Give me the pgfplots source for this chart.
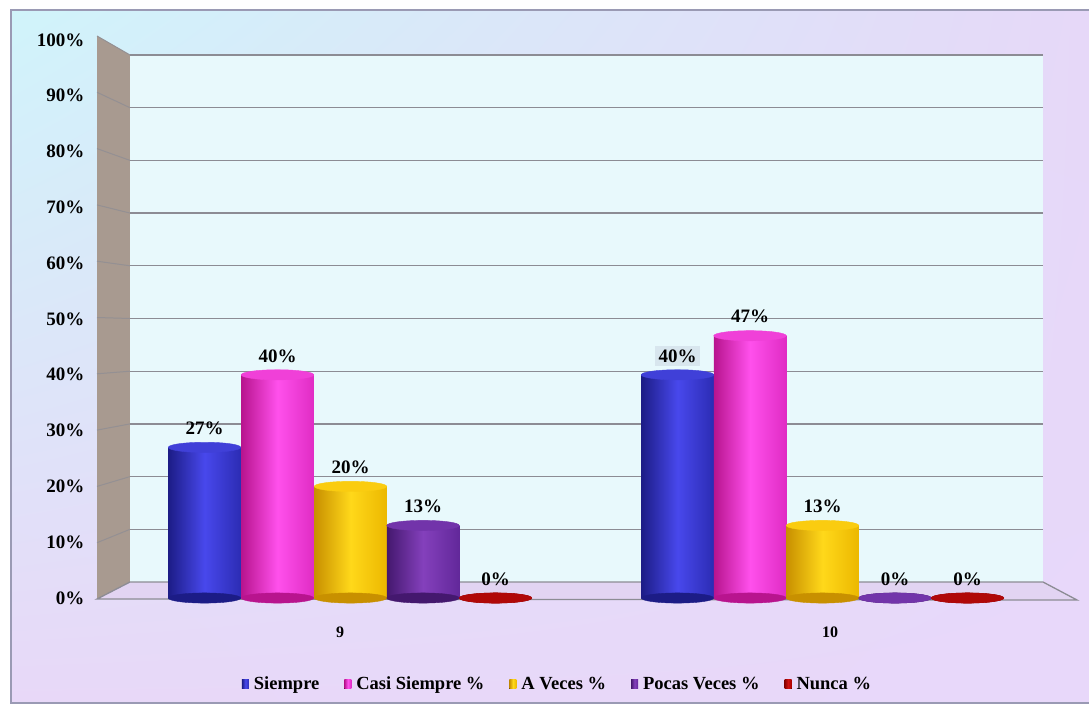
\documentclass[border=0pt]{standalone}
\usepackage{fontspec}
\setmainfont{Liberation Serif}
\usepackage{pgfplots}
\pgfplotsset{compat=1.18}
\usetikzlibrary{shadings}

\definecolor{bgTL}{HTML}{D0F4FA}
\definecolor{bgTR}{HTML}{E6D8F8}
\definecolor{bgBL}{HTML}{E8D8F8}
\definecolor{bgBR}{HTML}{E8D8FA}
\definecolor{frameC}{HTML}{9A9AB4}
\definecolor{wallC}{HTML}{E8F9FC}
\definecolor{sideC}{HTML}{A89A90}
\definecolor{floorC}{HTML}{E2D4F2}
\definecolor{gridC}{HTML}{8C8C94}
\definecolor{lblC}{HTML}{D8E6EE}

\definecolor{bD}{HTML}{1C1C86}\definecolor{bM}{HTML}{2C2CB4}\definecolor{bL}{HTML}{4848EC}\definecolor{bT}{HTML}{4040D8}
\definecolor{pD}{HTML}{B8148E}\definecolor{pM}{HTML}{E02CC4}\definecolor{pL}{HTML}{FF50EC}\definecolor{pT}{HTML}{F040D8}
\definecolor{yD}{HTML}{C89000}\definecolor{yM}{HTML}{ECB800}\definecolor{yL}{HTML}{FFD81A}\definecolor{yT}{HTML}{FACC10}
\definecolor{vD}{HTML}{44186E}\definecolor{vM}{HTML}{62289A}\definecolor{vL}{HTML}{8440BC}\definecolor{vT}{HTML}{7234AA}
\definecolor{rD}{HTML}{880000}\definecolor{rM}{HTML}{A80000}\definecolor{rL}{HTML}{D01010}\definecolor{rT}{HTML}{B00808}

\pgfplotsset{
  cyl/.style={ybar, bar width=72.5pt, bar shift=0pt, draw=none,
    nodes near coords={\pgfmathprintnumber{\pgfplotspointmeta}\%},
    every node near coord/.append style={font=\fontsize{19}{22}\selectfont\bfseries, text=black, anchor=south, yshift=9pt},
    legend image code/.code={\fill[##1] (0pt,-4.5pt) rectangle (7pt,4.5pt); \path (-1pt,0pt) (10pt,0pt);}},
  disc/.style={only marks, mark=*, mark size=36.25pt, draw=#1, fill=#1,
    mark options={yscale=0.14, fill=#1, draw=#1}, forget plot},
}
% #1 dark, #2 mid, #3 light, #4 top, #5 x, #6 value, #7 extra options
\newcommand{\cylbar}[7]{%
  \addplot[disc=#1] coordinates {(#5,0)};
  \addplot[cyl, #7, left color=#1, right color=#2, middle color=#3] coordinates {(#5,#6)};
  \addplot[disc=#4] coordinates {(#5,#6)};
}

\begin{document}
\begin{tikzpicture}[x=1pt,y=1pt]
\useasboundingbox (0,0) rectangle (1089,-706);
\fill[white] (0,0) rectangle (1089,-706);
\shade[upper left=bgTL, upper right=bgTR, lower left=bgBL, lower right=bgBR] (11,-10) rectangle (1089,-703);
\draw[frameC, line width=2.5] (1095,-10) -- (11,-10) -- (11,-703) -- (1095,-703);
% side wall
\fill[sideC] (97,-36) -- (130,-55) -- (130,-582) -- (97,-599) -- cycle;
% back wall
\fill[wallC] (130,-55) rectangle (1043,-582);
% floor
\filldraw[fill=floorC, draw=gridC, line width=1.3] (97,-599) -- (130,-582) -- (1043,-582) -- (1077,-600) -- cycle;
\foreach \k in {1,...,10}{
  \draw[gridC, line width=1.3] (130,{-582+52.7*\k}) -- (1043,{-582+52.7*\k});
  \draw[gridC!70!sideC, line width=1] (97,{-599+56.3*\k}) -- (130,{-582+52.7*\k});
}
\begin{axis}[
  at={(97pt,-598pt)}, anchor=south west,
  width=978pt, height=558pt, scale only axis,
  xmin=97, xmax=1075, ymin=0, ymax=100,
  axis line style={draw=none}, major tick length=0pt,
  ytick={0,10,...,100},
  yticklabel={\pgfmathprintnumber{\tick}\%},
  yticklabel style={font=\fontsize{19}{22}\selectfont\bfseries, xshift=-9pt},
  xtick={340,830}, xticklabels={9,10},
  xticklabel style={font=\fontsize{16}{18}\selectfont\bfseries, yshift=-25pt},
  /pgf/number format/assume math mode=true,
  clip=false,
  legend style={draw=none, fill=none, at={(0.5,0)}, anchor=center, xshift=-29pt, yshift=-86pt,
    font=\fontsize{18.5}{21}\selectfont\bfseries, legend columns=-1,
    /tikz/every even column/.append style={column sep=22pt}},
  legend cell align=left,
]
% group 9
\cylbar{bD}{bM}{bL}{bT}{204.5}{27}{}
\cylbar{pD}{pM}{pL}{pT}{277.5}{40}{}
\cylbar{yD}{yM}{yL}{yT}{350.5}{20}{}
\cylbar{vD}{vM}{vL}{vT}{423}{13}{}
\cylbar{rD}{rM}{rL}{rT}{495.5}{0}{}
% group 10
\cylbar{bD}{bM}{bL}{bT}{677.5}{40}{forget plot, every node near coord/.append style={fill=lblC}}
\cylbar{pD}{pM}{pL}{pT}{750}{47}{forget plot}
\cylbar{yD}{yM}{yL}{yT}{822.5}{13}{forget plot}
\cylbar{vD}{vM}{vL}{vT}{895}{0}{forget plot}
\cylbar{rD}{rM}{rL}{rT}{967.5}{0}{forget plot}
\legend{Siempre, Casi Siempre \%, A Veces \%, Pocas Veces \%, Nunca \%}
\end{axis}
\end{tikzpicture}
\end{document}
